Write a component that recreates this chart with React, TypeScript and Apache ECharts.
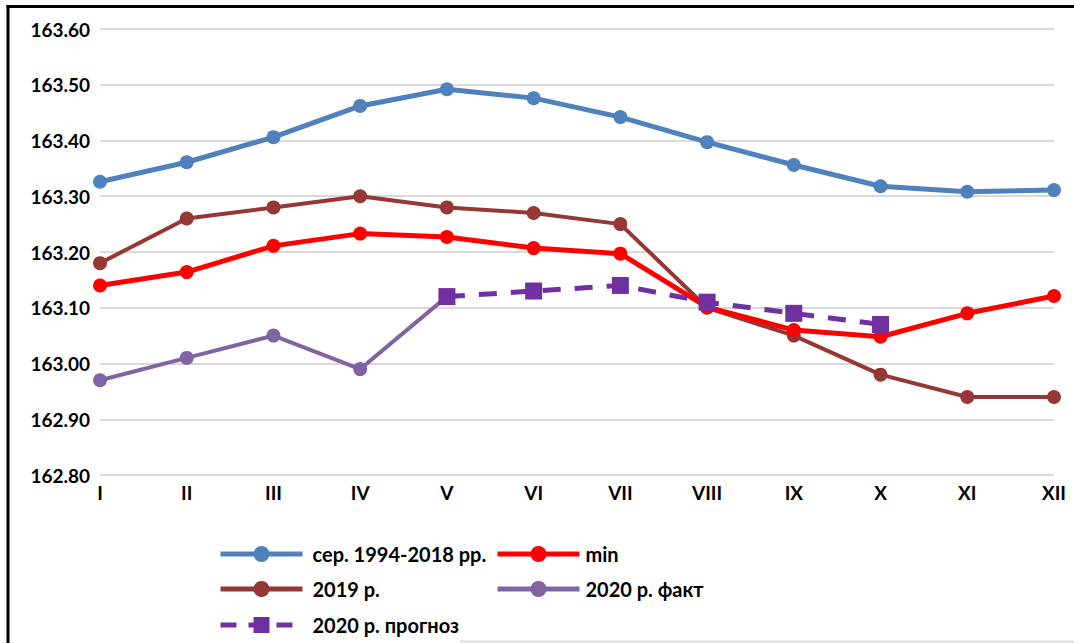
import React, { useEffect, useRef } from "react";
import * as echarts from "echarts";

const months = ["I", "II", "III", "IV", "V", "VI", "VII", "VIII", "IX", "X", "XI", "XII"];
const avg19942018 = [163.326, 163.361, 163.406, 163.462, 163.492, 163.476, 163.442, 163.397, 163.356, 163.318, 163.308, 163.311];
const minValues = [163.14, 163.164, 163.211, 163.233, 163.227, 163.207, 163.197, 163.101, 163.06, 163.048, 163.09, 163.121];
const year2019 = [163.18, 163.26, 163.28, 163.3, 163.28, 163.27, 163.25, 163.1, 163.05, 162.98, 162.94, 162.94];
const fact2020 = [162.97, 163.01, 163.05, 162.99, 163.12, null, null, null, null, null, null, null];
const forecast2020 = [null, null, null, null, 163.12, 163.13, 163.14, 163.11, 163.09, 163.07, null, null];
const seriesNames = ["сер. 1994-2018 рр.", "min", "2019 р.", "2020 р. факт", "2020 р. прогноз"];

const FONT = "Lato, 'Open Sans', sans-serif";

export default function App() {
  const ref = useRef<HTMLDivElement>(null);
  useEffect(() => {
    if (!ref.current) return;
    const chart = echarts.init(ref.current, null, { renderer: "svg" });
    const legendText = { fontFamily: FONT, fontWeight: "bold", fontSize: 20, color: "#000" };
    const mkLegend = (name: string, left: number, top: number, pad: number, lw: number, dashed = false) => ({
      data: [name],
      left,
      top,
      orient: "horizontal",
      itemWidth: 82,
      itemHeight: 20,
      padding: 0,
      selectedMode: false,
      lineStyle: { width: lw, type: dashed ? [16, 12] : "solid" },
      textStyle: { ...legendText, padding: [0, 0, 0, pad] },
    });
    chart.setOption({
      animation: false,
      backgroundColor: "#fff",
      grid: { left: 100, right: 20, top: 29, bottom: 168 },
      xAxis: {
        type: "category",
        data: months,
        boundaryGap: false,
        axisLine: { show: false },
        axisTick: { show: false },
        axisLabel: { fontFamily: FONT, fontWeight: "bold", fontSize: 19, color: "#000", margin: 8 },
      },
      yAxis: {
        type: "value",
        min: 162.8,
        max: 163.6,
        interval: 0.1,
        axisLine: { show: false },
        axisTick: { show: false },
        axisLabel: {
          fontFamily: FONT,
          fontWeight: "bold",
          fontSize: 19,
          color: "#000",
          margin: 10,
          formatter: (v: number) => v.toFixed(2),
        },
        splitLine: { lineStyle: { color: "#D9D9D9", width: 2 } },
      },
      legend: [
        mkLegend(seriesNames[0], 218, 544, 5, 5),
        mkLegend(seriesNames[1], 495, 544, 1, 5),
        mkLegend(seriesNames[2], 218, 579, 5, 5),
        mkLegend(seriesNames[3], 495, 579, 1, 5),
        mkLegend(seriesNames[4], 218, 615, 5, 5, true),
      ],
      series: [
        {
          name: seriesNames[0],
          type: "line",
          data: avg19942018,
          symbol: "circle",
          symbolSize: 14,
          lineStyle: { color: "#4F81BD", width: 5 },
          itemStyle: { color: "#4F81BD" },
          z: 2,
        },
        {
          name: seriesNames[1],
          type: "line",
          data: minValues,
          symbol: "circle",
          symbolSize: 14,
          lineStyle: { color: "#FF0000", width: 5 },
          itemStyle: { color: "#FF0000" },
          z: 4,
        },
        {
          name: seriesNames[2],
          type: "line",
          data: year2019,
          symbol: "circle",
          symbolSize: 14,
          lineStyle: { color: "#953735", width: 4 },
          itemStyle: { color: "#953735" },
          z: 3,
        },
        {
          name: seriesNames[3],
          type: "line",
          data: fact2020,
          symbol: "circle",
          symbolSize: 14,
          connectNulls: false,
          lineStyle: { color: "#8064A2", width: 4 },
          itemStyle: { color: "#8064A2" },
          z: 5,
        },
        {
          name: seriesNames[4],
          type: "line",
          data: forecast2020,
          symbol: "rect",
          symbolSize: 17,
          lineStyle: { color: "#7030A0", width: 5, type: [18, 14] },
          itemStyle: { color: "#7030A0" },
          z: 6,
        },
      ],
      graphic: [
        { type: "line", shape: { x1: 6.5, y1: 6.5, x2: 1074, y2: 6.5 }, style: { stroke: "#000", lineWidth: 3 }, silent: true },
        { type: "line", shape: { x1: 8, y1: 5, x2: 8, y2: 643 }, style: { stroke: "#000", lineWidth: 3 }, silent: true },
        { type: "line", shape: { x1: 460, y1: 641.5, x2: 1074, y2: 641.5 }, style: { stroke: "#D9D9D9", lineWidth: 2 }, silent: true },
      ],
    });
    return () => chart.dispose();
  }, []);
  return (
    <div
      ref={ref}
      style={{ position: "fixed", left: 0, top: 0, width: 1074, height: 643 }}
    />
  );
}
